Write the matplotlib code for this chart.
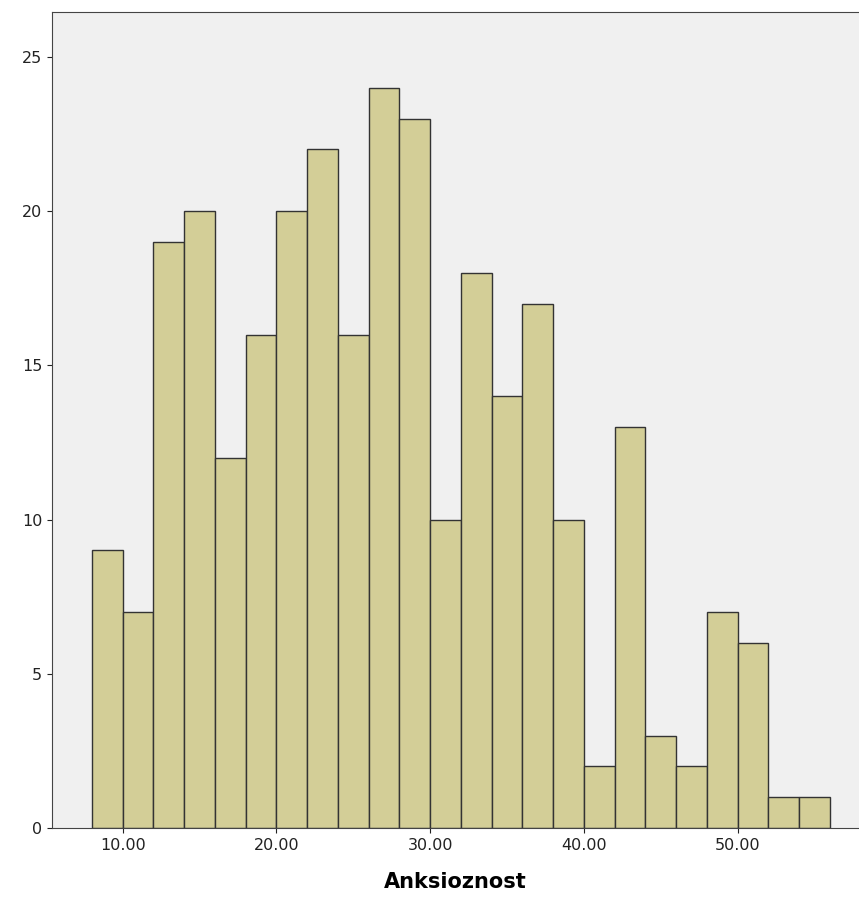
import matplotlib.pyplot as plt

# Bin edges and counts
edges = [8 + 2 * i for i in range(25)]
counts = [9, 7, 19, 20, 12, 16, 20, 22, 16, 24, 23, 10,
          18, 14, 17, 10, 2, 13, 3, 2, 7, 6, 1, 1]
xticks = [10, 20, 30, 40, 50]
xlabels = ["10.00", "20.00", "30.00", "40.00", "50.00"]
yticks = [0, 5, 10, 15, 20, 25]

fig = plt.figure(figsize=(8.59, 9.13), dpi=100)
ax = fig.add_axes([0.0605, 0.093, 0.9395, 0.894])
ax.set_facecolor("#f0f0f0")

ax.bar(edges[:-1], counts, width=2, align="edge",
       color="#d3ce97", edgecolor="#333333", linewidth=1)

ax.set_xlim(5.4, 57.9)
ax.set_ylim(0, 26.46)
ax.set_xticks(xticks)
ax.set_xticklabels(xlabels)
ax.set_yticks(yticks)
ax.tick_params(labelsize=11.5, colors="#222222")
ax.spines["right"].set_visible(False)
for s in ["left", "bottom", "top"]:
    ax.spines[s].set_color("#444444")

ax.set_xlabel("Anksioznost", fontsize=15, fontweight="bold", labelpad=14)

fig.savefig("out.png", dpi=100)
